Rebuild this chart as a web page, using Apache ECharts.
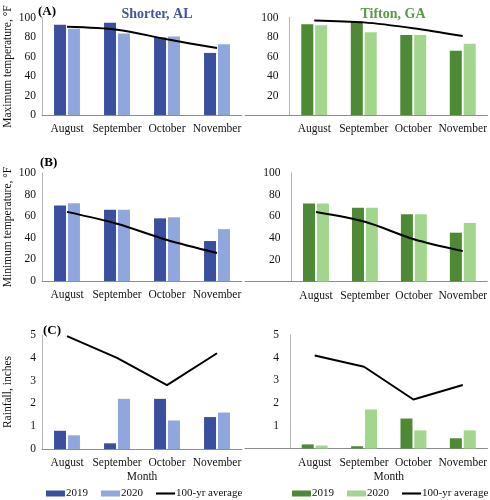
<!DOCTYPE html>
<html><head><meta charset="utf-8">
<script src="https://cdn.jsdelivr.net/npm/echarts@6/dist/echarts.min.js"></script>
<style>html,body{margin:0;padding:0;background:#fff}#c{width:490px;height:500px}</style>
</head><body><div id="c"></div>
<script>
const months = ['August', 'September', 'October', 'November'];
const shorterMax2019 = [93, 95, 80, 64];
const shorterMax2020 = [89, 84, 81, 73];
const shorterMaxAvg = [91, 88, 78, 69];
const tiftonMax2019 = [93, 96, 82, 66];
const tiftonMax2020 = [92, 85, 82, 73];
const tiftonMaxAvg = [97, 95, 89, 81];
const shorterMin2019 = [70, 66, 58, 37];
const shorterMin2020 = [72, 66, 59, 48];
const shorterMinAvg = [64, 53, 38, 26];
const tiftonMin2019 = [72, 68, 62, 45];
const tiftonMin2020 = [72, 68, 62, 54];
const tiftonMinAvg = [64, 55, 39, 28];
const shorterRain2019 = [0.8, 0.25, 2.2, 1.4];
const shorterRain2020 = [0.6, 2.2, 1.25, 1.6];
const shorterRainAvg = [4.95, 4.0, 2.8, 4.2];
const tiftonRain2019 = [0.18, 0.1, 1.32, 0.45];
const tiftonRain2020 = [0.13, 1.72, 0.8, 0.8];
const tiftonRainAvg = [4.1, 3.6, 2.16, 2.8];
const legendNames = ['2019', '2020', '100-yr average'];

const FONT = 'Liberation Serif';
const BLUE_D = '#3a4f9e', BLUE_L = '#8fa7dc', GREEN_D = '#4e8a35', GREEN_L = '#a1d68c';

const panels = [
  {grid: {left: 42, top: 18, width: 200, height: 97}, max: 100, interval: 20, d19: shorterMax2019, d20: shorterMax2020, avg: shorterMaxAvg, c: [BLUE_D, BLUE_L], right: false, smooth: 0.3, name: 'Maximum temperature, °F'},
  {grid: {left: 289.5, top: 17.5, width: 198, height: 97.5}, max: 100, interval: 20, d19: tiftonMax2019, d20: tiftonMax2020, avg: tiftonMaxAvg, c: [GREEN_D, GREEN_L], right: true, smooth: 0.3},
  {grid: {left: 42, top: 173, width: 200, height: 108}, max: 100, interval: 20, d19: shorterMin2019, d20: shorterMin2020, avg: shorterMinAvg, c: [BLUE_D, BLUE_L], right: false, smooth: 0.3, name: 'Minimum temperature, °F'},
  {grid: {left: 291.5, top: 173, width: 196.5, height: 108.5}, max: 100, interval: 20, d19: tiftonMin2019, d20: tiftonMin2020, avg: tiftonMinAvg, c: [GREEN_D, GREEN_L], right: true, smooth: 0.3},
  {grid: {left: 42, top: 335, width: 200, height: 114}, max: 5, interval: 1, d19: shorterRain2019, d20: shorterRain2020, avg: shorterRainAvg, c: [BLUE_D, BLUE_L], right: false, smooth: false, name: 'Rainfall, inches', month: true},
  {grid: {left: 290, top: 335, width: 198, height: 113.5}, max: 5, interval: 1, d19: tiftonRain2019, d20: tiftonRain2020, avg: tiftonRainAvg, c: [GREEN_D, GREEN_L], right: true, smooth: false, month: true}
];

const grid = [], xAxis = [], yAxis = [], series = [];
panels.forEach((p, i) => {
  grid.push(p.grid);
  xAxis.push({
    type: 'category', gridIndex: i, data: months,
    axisLine: {lineStyle: {color: '#8c8c8c', width: 1}},
    axisTick: {show: false},
    axisLabel: {color: '#111', fontFamily: FONT, fontSize: 11.5, margin: 8, interval: 0},
    name: p.month ? 'Month' : '', nameLocation: 'middle', nameGap: 22,
    nameTextStyle: {color: '#111', fontFamily: FONT, fontSize: 11.5}
  });
  yAxis.push({
    type: 'value', gridIndex: i, min: 0, max: p.max, interval: p.interval,
    splitLine: {show: false},
    axisLine: {show: true, lineStyle: {color: '#b5b5b5', width: 1}},
    axisTick: {show: false},
    axisLabel: {color: '#111', fontFamily: FONT, fontSize: 11.5, margin: p.right ? 11 : 6, showMinLabel: !p.right},
    name: p.name || '', nameLocation: 'middle', nameGap: 28,
    nameTextStyle: {color: '#111', fontFamily: FONT, fontSize: 11.5}
  });
  const suf = p.right ? ' ' : '';
  series.push({type: 'bar', name: '2019' + suf, xAxisIndex: i, yAxisIndex: i, data: p.d19, barWidth: 12, barGap: '16%', itemStyle: {color: p.c[0]}});
  series.push({type: 'bar', name: '2020' + suf, xAxisIndex: i, yAxisIndex: i, data: p.d20, barWidth: 12, barGap: '16%', itemStyle: {color: p.c[1]}});
  series.push({type: 'line', name: '100-yr average' + suf, xAxisIndex: i, yAxisIndex: i, data: p.avg, smooth: p.smooth, symbol: 'none', lineStyle: {color: '#000', width: 2}, itemStyle: {color: '#000'}, z: 5});
});

// left-hand extensions of the right-panel category axes
[[17.5, 97.5], [173, 108.5], [335, 113.5]].forEach((g, k) => {
  const gi = grid.length;
  grid.push({left: 245, top: g[0], width: 46, height: g[1]});
  xAxis.push({type: 'value', gridIndex: gi, min: 0, max: 1, axisLine: {show: true, lineStyle: {color: '#8c8c8c'}}, axisTick: {show: false}, axisLabel: {show: false}, splitLine: {show: false}});
  yAxis.push({type: 'value', gridIndex: gi, show: false});
});

const lineIcon = 'path://M0,0h20v2.2h-20z';
const legendCommon = {
  bottom: 1, width: 260, padding: 0, itemWidth: 19, itemHeight: 6, itemGap: 13,
  textStyle: {color: '#111', fontFamily: FONT, fontSize: 11, padding: [0, 0, 0, -4]},
  selectedMode: false
};
function legendData(suf) {
  return legendNames.map(n => n === '100-yr average'
    ? {name: n + suf, icon: lineIcon, itemStyle: {color: '#000'}}
    : {name: n + suf, icon: 'rect'});
}

const option = {
  animation: false,
  backgroundColor: '#fff',
  title: [
    {text: '(A)', left: 33, top: 0, textStyle: {fontFamily: FONT, fontSize: 13, fontWeight: 'bold', color: '#000'}},
    {text: '(B)', left: 35, top: 151, textStyle: {fontFamily: FONT, fontSize: 13, fontWeight: 'bold', color: '#000'}},
    {text: '(C)', left: 38, top: 319, textStyle: {fontFamily: FONT, fontSize: 13, fontWeight: 'bold', color: '#000'}},
    {text: 'Shorter, AL', left: 152, top: 2, textAlign: 'center', textStyle: {fontFamily: FONT, fontSize: 14, fontWeight: 'bold', color: '#43559f'}},
    {text: 'Tifton, GA', left: 388, top: 2, textAlign: 'center', textStyle: {fontFamily: FONT, fontSize: 14, fontWeight: 'bold', color: '#5b9a45'}}
  ],
  grid, xAxis, yAxis, series,
  legend: [
    Object.assign({}, legendCommon, {left: 46, data: legendData('')}),
    Object.assign({}, legendCommon, {left: 292, data: legendData(' '), formatter: n => n.trim()})
  ]
};
const chart = echarts.init(document.getElementById('c'), null, {renderer: 'canvas'});
chart.setOption(option);
</script></body></html>
